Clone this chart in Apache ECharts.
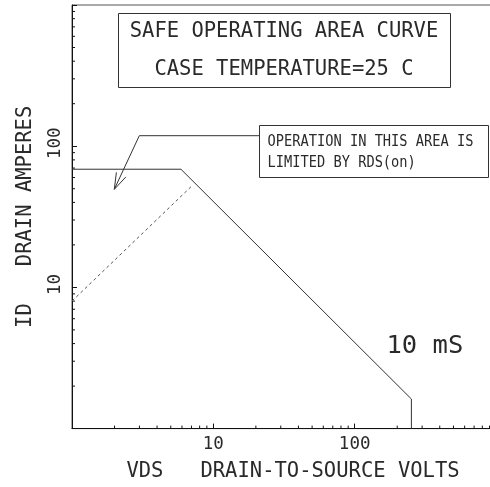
<!DOCTYPE html>
<html>
<head>
<meta charset="utf-8">
<script src="https://cdn.jsdelivr.net/npm/echarts@6/dist/echarts.min.js"></script>
<style>html,body{margin:0;padding:0;background:#fff}#c{width:490px;height:487px}</style>
</head>
<body>
<div id="c"></div>
<script>
// ---- data ----
var soaCurve = [[1, 68.7], [5.9, 68.7], [252, 1.62], [252, 1]];   // 10 mS SOA boundary
var rdsLimit = [[1, 8], [7, 52]];                               // RDS(on) limit (dashed)
var xMinorTicks = [2,3,4,5,6,7,8,9,20,30,40,50,60,70,80,90,200,300,400,500,600,700,800,900];
var yMinorTicks = [2,3,4,5,6,7,8,9,20,30,40,50,60,70,80,90,200,300,400,500,600,700,800,900];
var xTickLabels = ['10', '100'];
var yTickLabels = ['10', '100'];
var titleLines = ['SAFE OPERATING AREA CURVE', 'CASE TEMPERATURE=25 C'];
var noteLines = ['OPERATION IN THIS AREA IS', 'LIMITED BY RDS(on)'];
var curveLabel = '10 mS';
var xName = 'VDS   DRAIN-TO-SOURCE VOLTS';
var yName = 'ID   DRAIN AMPERES';

var FONT = '"DejaVu Sans Mono", monospace';
var INK = '#2a2a2a';

var chart = echarts.init(document.getElementById('c'), null, {renderer: 'canvas'});

function labelFmt(list) {
  return function (v) { var s = String(Math.round(v)); return list.indexOf(s) >= 0 ? s : ''; };
}

function minorX(params, api) {
  var p = api.coord([api.value(0), 1]);
  return {type: 'line', shape: {x1: p[0], y1: p[1], x2: p[0], y2: p[1] - 3},
          style: {stroke: '#111', lineWidth: 1}};
}
function minorY(params, api) {
  var p = api.coord([1, api.value(0)]);
  return {type: 'line', shape: {x1: p[0], y1: p[1], x2: p[0] + 3, y2: p[1]},
          style: {stroke: '#111', lineWidth: 1}};
}

var option = {
  animation: false,
  backgroundColor: '#fff',
  grid: {left: 72, top: 5, width: 424, height: 423.6, show: true, containLabel: false,
         outerBoundsMode: 'none',
         borderColor: '#555', borderWidth: 1, backgroundColor: 'transparent'},
  xAxis: {
    type: 'log', logBase: 10, min: 1, max: 1000,
    name: xName, nameLocation: 'middle', nameGap: 33,
    nameTextStyle: {fontFamily: FONT, fontSize: 20.5, color: INK, padding: [0, 0, 0, 18]},
    axisLine: {lineStyle: {color: '#111', width: 1}},
    axisTick: {inside: true, length: 5, lineStyle: {color: '#111'}},
    axisLabel: {formatter: labelFmt(xTickLabels), fontFamily: FONT, fontSize: 17.5, color: INK, margin: 7},
    splitLine: {show: false}
  },
  yAxis: {
    type: 'log', logBase: 10, min: 1, max: 1000,
    name: yName, nameLocation: 'middle', nameGap: 36, nameRotate: 90,
    nameTextStyle: {fontFamily: FONT, fontSize: 20.5, color: INK},
    axisLine: {lineStyle: {color: '#111', width: 1}},
    axisTick: {inside: true, length: 5, lineStyle: {color: '#111'}},
    axisLabel: {formatter: labelFmt(yTickLabels), fontFamily: FONT, fontSize: 17.5, color: INK, margin: 8, rotate: 90,
                padding: [0, 0, 0, 6]},
    splitLine: {show: false}
  },
  series: [
    {type: 'line', data: soaCurve, symbol: 'none', lineStyle: {color: '#333', width: 1}, z: 3},
    {type: 'line', data: rdsLimit, symbol: 'none', lineStyle: {color: '#555', width: 1, type: [3, 3]}, z: 3},
    {type: 'custom', data: xMinorTicks.map(function (v) { return [v]; }), renderItem: minorX, silent: true, clip: false},
    {type: 'custom', data: yMinorTicks.map(function (v) { return [v]; }), renderItem: minorY, silent: true, clip: false}
  ],
  graphic: [
    {type: 'rect', shape: {x: 118.5, y: 13.5, width: 332, height: 74},
     style: {fill: 'none', stroke: '#333', lineWidth: 1}},
    {type: 'text', x: 284, y: 32, style: {text: titleLines[0], font: '20.5px ' + FONT, fill: INK,
      textAlign: 'center', align: 'center', textVerticalAlign: 'middle', verticalAlign: 'middle'}},
    {type: 'text', x: 284, y: 70, style: {text: titleLines[1], font: '20.5px ' + FONT, fill: INK,
      textAlign: 'center', align: 'center', textVerticalAlign: 'middle', verticalAlign: 'middle'}},
    {type: 'rect', shape: {x: 259.5, y: 125.5, width: 229, height: 52},
     style: {fill: 'none', stroke: '#333', lineWidth: 1}},
    {type: 'text', x: 267.5, y: 141.7, scaleY: 1.12, style: {text: noteLines[0], font: '13.7px ' + FONT, fill: INK,
      textAlign: 'left', align: 'left', textVerticalAlign: 'middle', verticalAlign: 'middle'}},
    {type: 'text', x: 267.5, y: 163.3, scaleY: 1.12, style: {text: noteLines[1], font: '13.7px ' + FONT, fill: INK,
      textAlign: 'left', align: 'left', textVerticalAlign: 'middle', verticalAlign: 'middle'}},
    {type: 'polyline', shape: {points: [[259.5, 135.7], [139.3, 135.7], [114.3, 189.3]]},
     style: {fill: 'none', stroke: '#333', lineWidth: 1}},
    {type: 'polyline', shape: {points: [[116.4, 172.4], [114.3, 189.3], [125.9, 176.9]]},
     style: {fill: 'none', stroke: '#333', lineWidth: 1}},
    {type: 'text', x: 386.5, y: 346.7, style: {text: curveLabel, font: '25.5px ' + FONT, fill: INK,
      textAlign: 'left', align: 'left', textVerticalAlign: 'middle', verticalAlign: 'middle'}}
  ]
};
chart.setOption(option);
</script>
</body>
</html>
